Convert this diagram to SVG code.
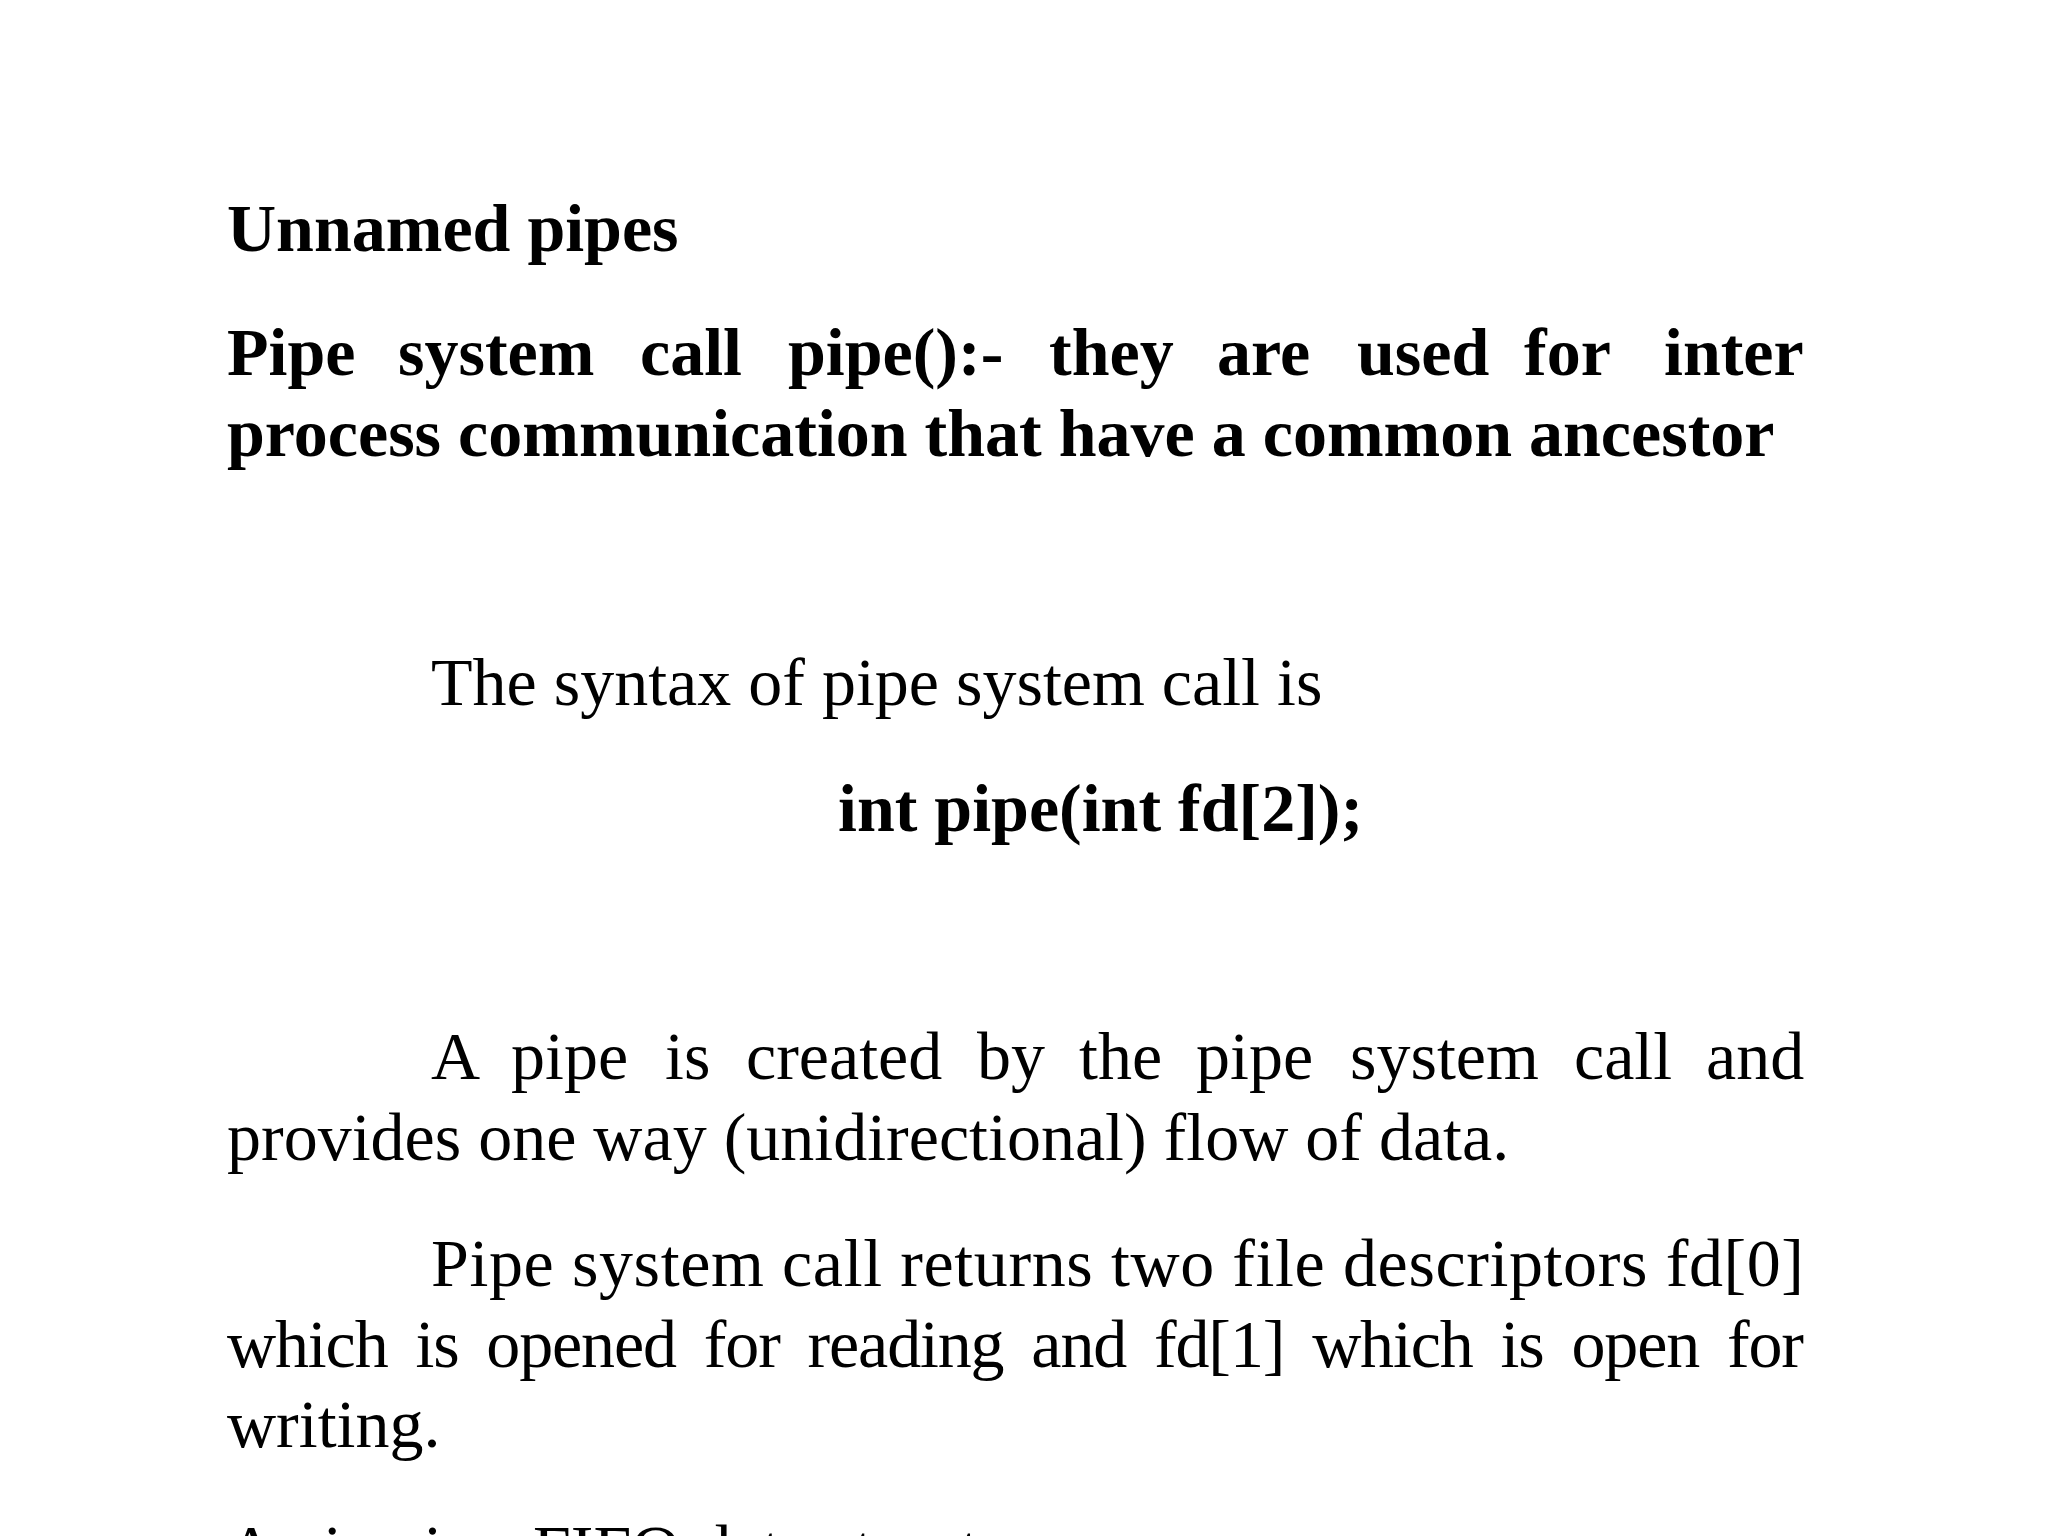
<svg xmlns="http://www.w3.org/2000/svg" width="2048" height="1536" viewBox="0 0 2048 1536">
<style>
text{font-family:"Liberation Serif","Times New Roman",serif;font-size:68px;fill:#000}
.b{font-weight:bold}
</style>
<rect width="2048" height="1536" fill="#fff"/>
<text class="b" x="227" y="251">Unnamed pipes</text>
<text class="b" y="375"><tspan x="227">Pipe</tspan><tspan x="398">system</tspan><tspan x="640">call</tspan><tspan x="788">pipe():-</tspan><tspan x="1049">they</tspan><tspan x="1217">are</tspan><tspan x="1357">used</tspan><tspan x="1524">for</tspan><tspan x="1664">inter</tspan></text>
<text class="b" x="227" y="456">process communication that have a common ancestor</text>
<text x="431" y="705">The syntax of pipe system call is</text>
<text class="b" x="838" y="831">int pipe(int fd[2]);</text>
<text y="1079"><tspan x="431">A</tspan><tspan x="511">pipe</tspan><tspan x="665">is</tspan><tspan x="746">created</tspan><tspan x="977">by</tspan><tspan x="1079">the</tspan><tspan x="1196">pipe</tspan><tspan x="1350">system</tspan><tspan x="1574">call</tspan><tspan x="1706">and</tspan></text>
<text x="227" y="1160">provides one way (unidirectional) flow of data.</text>
<text x="431" y="1286" textLength="1373" lengthAdjust="spacing">Pipe system call returns two file descriptors fd[0]</text>
<text x="227" y="1367" textLength="1577" lengthAdjust="spacing" word-spacing="12">which is opened for reading and fd[1] which is open for</text>
<text x="227" y="1447">writing.</text>
<text x="227" y="1572">A pipe is a FIFO data structure</text>
</svg>
